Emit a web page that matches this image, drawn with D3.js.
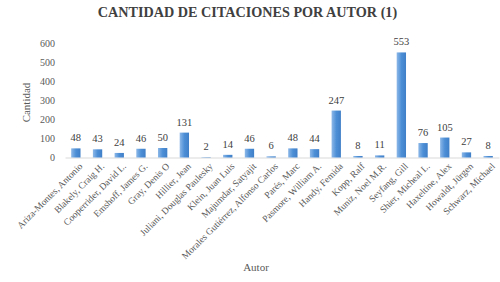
<!DOCTYPE html>
<html>
<head>
<meta charset="utf-8">
<script src="https://cdn.jsdelivr.net/npm/d3@7"></script>
<style>
  html, body { margin: 0; padding: 0; background: #ffffff; }
  svg { display: block; }
</style>
</head>
<body>
<div id="chart"></div>
<script>
const authors = [
  "Ariza-Montes, Antonio", "Blakely, Craig H.", "Cooperrider, David L.", "Emshoff, James G.",
  "Gray, Denis O", "Hillier, Jean", "Juliani, Douglas Paulesky", "Klein, Juan Luis",
  "Majumdar, Satyajit", "Morales Gutiérrez, Alfonso Carlos", "Parés, Marc", "Pasmore, William A.",
  "Handy, Femida", "Kopp, Ralf", "Muniz, Noel M.R.", "Seyfang, Gill",
  "Shier, Micheal L.", "Haxeltine, Alex", "Howaldt, Jürgen", "Schwarz, Michael"
];
const citations = [48, 43, 24, 46, 50, 131, 2, 14, 46, 6, 48, 44, 247, 8, 11, 553, 76, 105, 27, 8];
const yTicks = [0, 100, 200, 300, 400, 500, 600];

const W = 500, H = 282;
const margin = { left: 65, right: 1, top: 43.5, bottom: 124.5 };
const svg = d3.select("#chart").append("svg").attr("width", W).attr("height", H);

const defs = svg.append("defs");
const grad = defs.append("linearGradient").attr("id", "barGrad")
  .attr("x1", "0%").attr("x2", "100%").attr("y1", "0%").attr("y2", "0%");
grad.append("stop").attr("offset", "0%").attr("stop-color", "#8db8e8");
grad.append("stop").attr("offset", "50%").attr("stop-color", "#4d8fd6");
grad.append("stop").attr("offset", "100%").attr("stop-color", "#3f7fc8");

const x = d3.scaleBand().domain(authors).range([margin.left, W - margin.right]).paddingInner(0.57).paddingOuter(0.285);
const y = d3.scaleLinear().domain([0, 600]).range([H - margin.bottom, margin.top]);

const serif = "'Liberation Serif', 'DejaVu Serif', serif";
const textCol = "#595959";

// Title
svg.append("text").attr("x", 247.5).attr("y", 17).attr("text-anchor", "middle")
  .attr("font-family", serif).attr("font-weight", "bold").attr("font-size", 14.2)
  .attr("fill", "#404040").text("CANTIDAD DE CITACIONES POR AUTOR (1)");

// Y axis
const yAxis = d3.axisLeft(y).tickValues(yTicks).tickSize(0).tickPadding(0);
const yg = svg.append("g").attr("transform", `translate(${margin.left - 10},0)`).call(yAxis);
yg.select(".domain").remove();
yg.selectAll("text").attr("font-family", serif).attr("font-size", 10).attr("fill", textCol);

// Y title
svg.append("text").attr("transform", `translate(30,${(y(0) + y(600)) / 2 + 2}) rotate(-90)`)
  .attr("text-anchor", "middle").attr("font-family", serif).attr("font-size", 11)
  .attr("fill", textCol).text("Cantidad");

// X axis
const xAxis = d3.axisBottom(x).tickSize(0).tickPadding(0);
const xg = svg.append("g").attr("transform", `translate(0,${y(0)})`).call(xAxis);
xg.select(".domain").attr("stroke", "#d9d9d9").attr("stroke-width", 1);
xg.selectAll("text")
  .attr("font-family", serif).attr("font-size", 9.5).attr("fill", textCol)
  .attr("text-anchor", "end").attr("dy", "0.35em")
  .attr("transform", "translate(5,7) rotate(-45)")
  .attr("x", 0).attr("y", 0);

// X title
svg.append("text").attr("x", 256).attr("y", 271).attr("text-anchor", "middle")
  .attr("font-family", serif).attr("font-size", 11).attr("fill", textCol).text("Autor");

// Bars
svg.append("g").selectAll("rect").data(authors).join("rect")
  .attr("x", d => x(d)).attr("width", x.bandwidth())
  .attr("y", (d, i) => y(citations[i]))
  .attr("height", (d, i) => y(0) - y(citations[i]))
  .attr("fill", "url(#barGrad)");

// Data labels
svg.append("g").selectAll("text").data(authors).join("text")
  .attr("x", d => x(d) + x.bandwidth() / 2)
  .attr("y", (d, i) => y(citations[i]) - 7)
  .attr("text-anchor", "middle").attr("font-family", serif).attr("font-size", 10.5)
  .attr("fill", "#404040").text((d, i) => citations[i]);
</script>
</body>
</html>
